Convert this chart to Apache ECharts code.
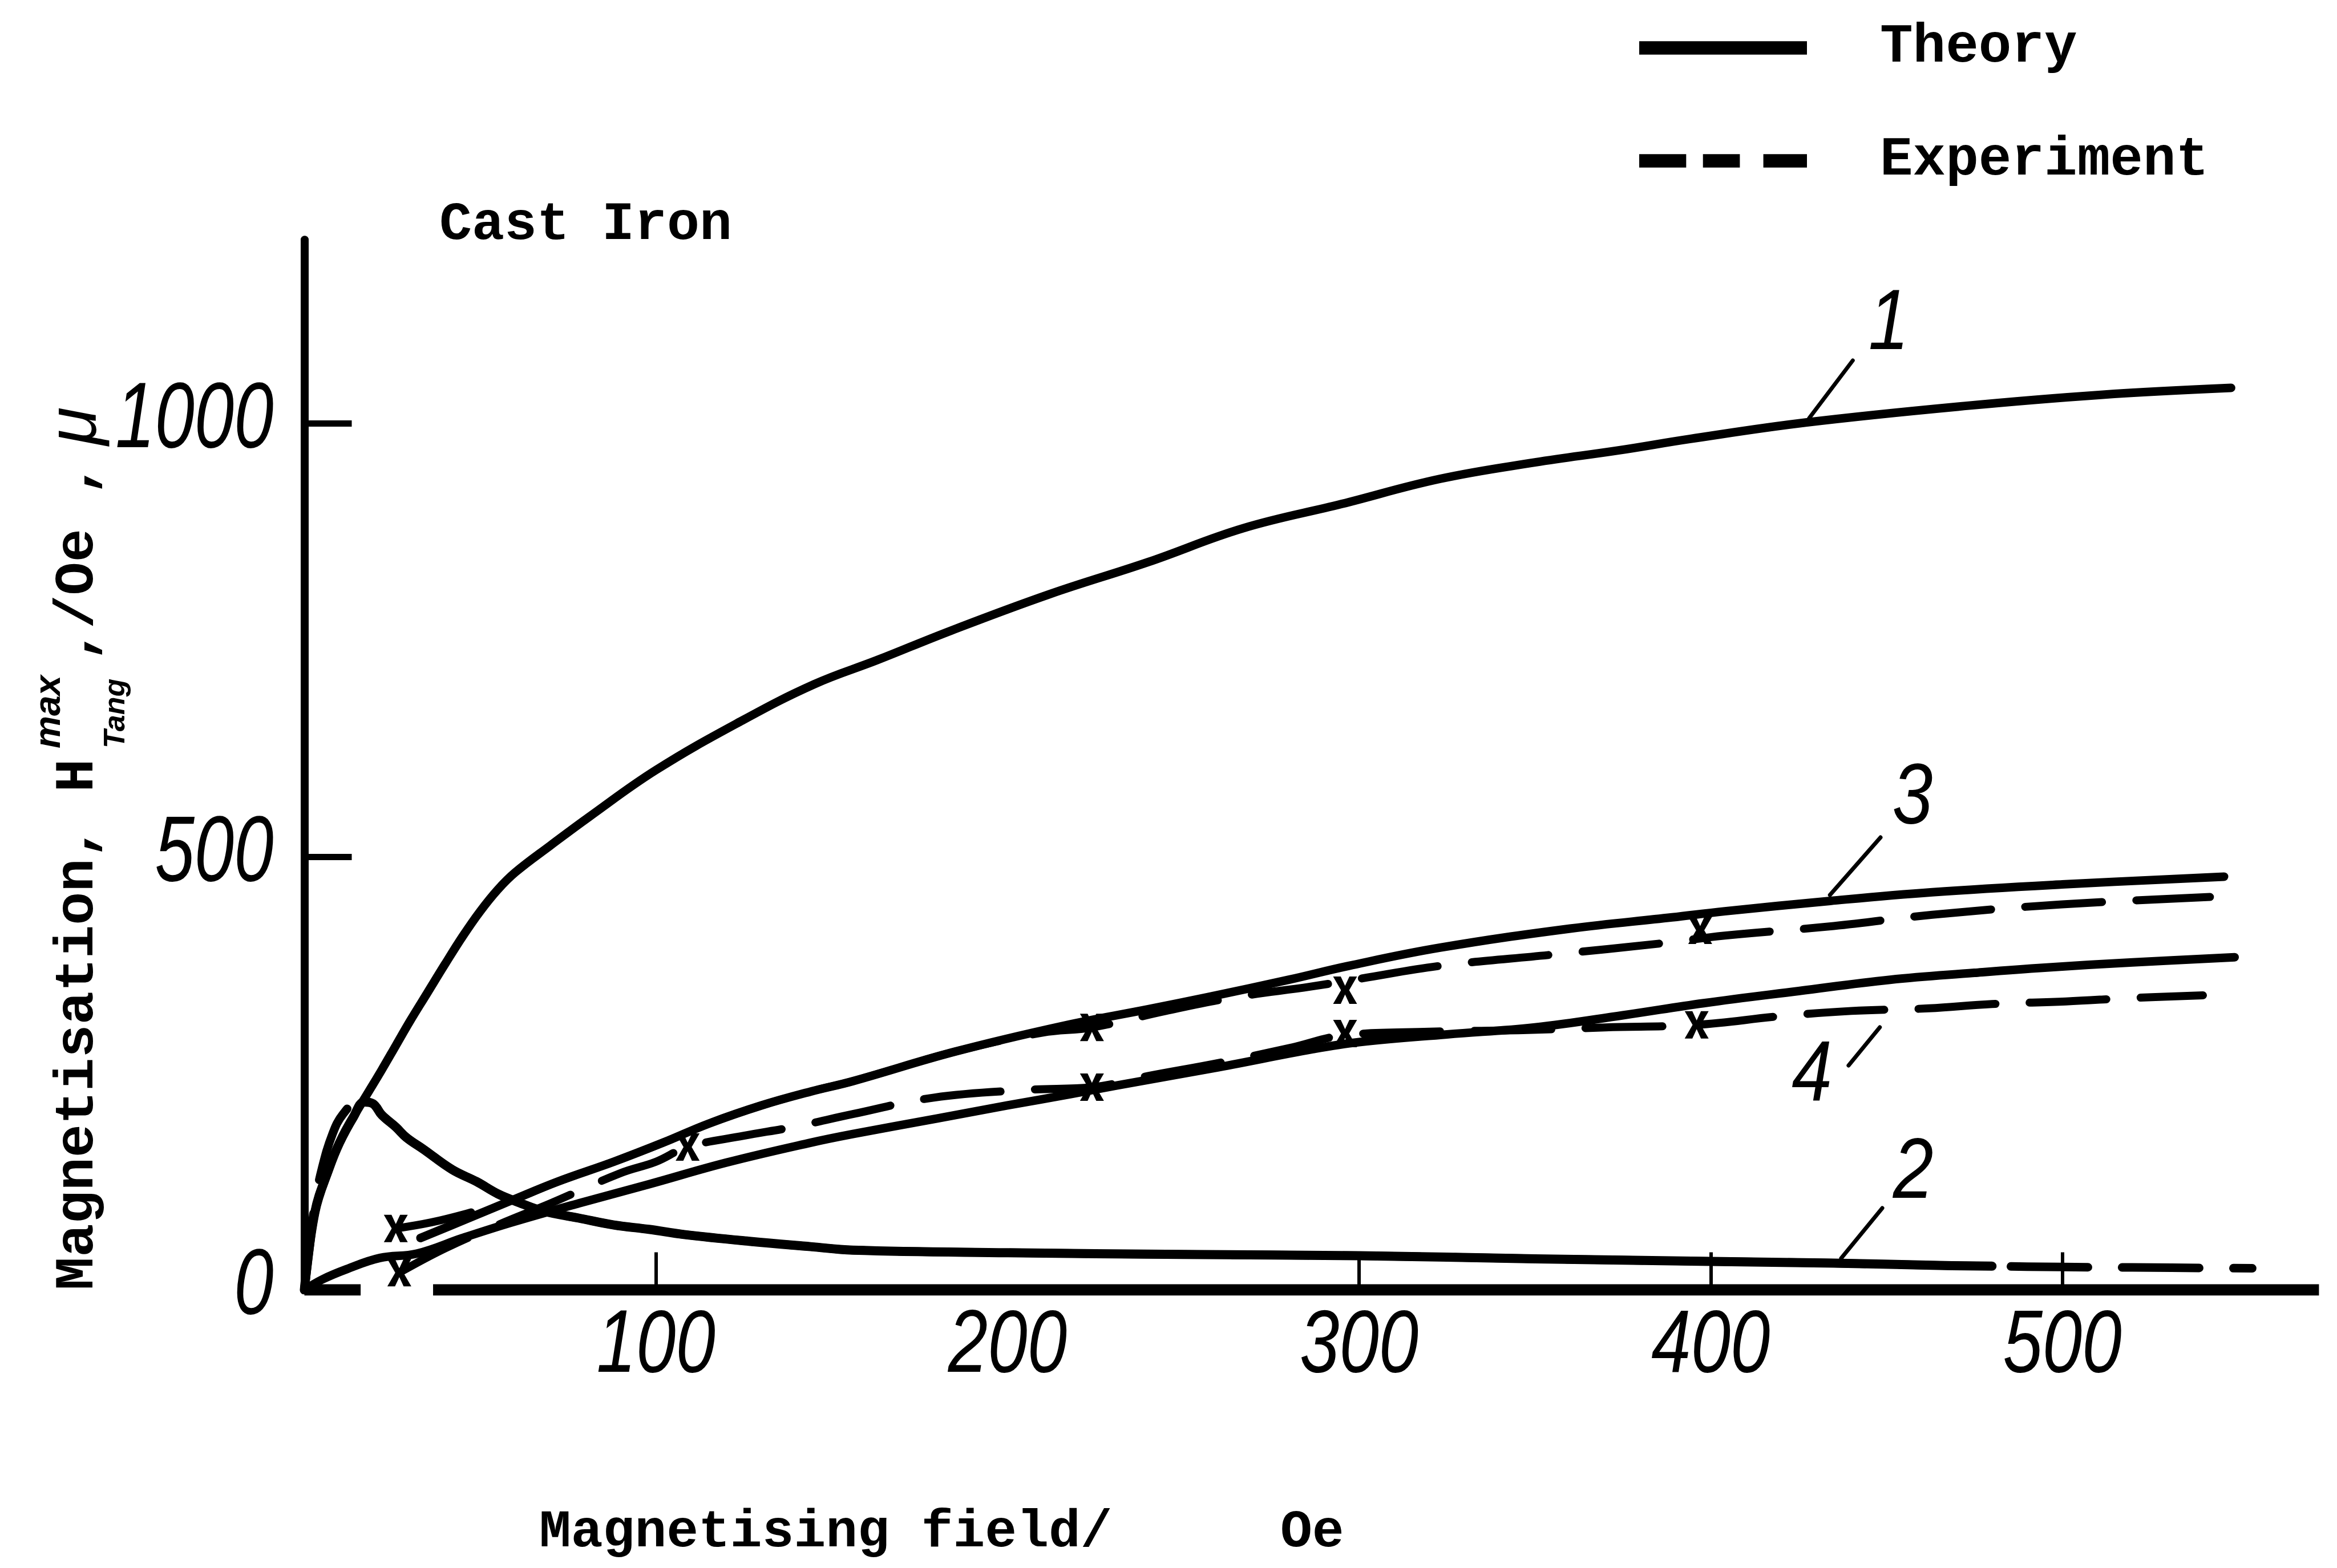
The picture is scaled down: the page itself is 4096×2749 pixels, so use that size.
<!DOCTYPE html>
<html>
<head>
<meta charset="utf-8">
<style>
html, body { margin: 0; padding: 0; background: #ffffff; }
#chart { width: 4096px; height: 2749px; }
</style>
<script src="https://cdn.jsdelivr.net/npm/echarts@6/dist/echarts.min.js"></script>
</head>
<body>
<div id="chart"></div>
<script>
// Magnetising field H (Oe) on x, magnetisation / permeability on y.
// Curve 1: permeability mu (theory)
const theory1X = [0, 3, 7, 10, 14, 18, 22, 26, 30, 35, 40, 45, 50, 55, 60, 70, 81, 100, 124, 145, 163, 184, 212, 240, 267, 295, 323, 350, 374, 394, 427, 472, 511, 548];
const theory1Y = [0, 90, 140, 170, 200, 227, 254, 282, 310, 343, 376, 408, 437, 462, 482, 513, 546, 600, 656, 699, 727, 761, 803, 840, 879, 907, 936, 955, 969, 982, 1001, 1020, 1033, 1041];

// Curve 2 (theory and experiment)
const theory2X = [0, 3, 7, 10, 14, 17, 19.5, 22, 26, 29, 34, 42, 49, 55, 61, 68, 78, 88, 98, 108, 127, 144, 156, 200, 250, 300, 350, 400, 435, 463, 480];
const theory2Y = [0, 90, 140, 170, 200, 217, 215, 202, 188, 176, 162, 139, 125, 111, 101, 91, 83, 75, 70, 64, 56, 50, 46, 43, 41, 39.5, 36, 33, 31, 28.5, 27.5];
const exp2X = [0, 1.5, 3, 5, 8, 11, 15, 19, 22, 26, 29, 34, 42, 49, 55, 61, 68, 78, 88, 98, 108, 127, 144, 156, 200, 250, 300, 350, 400, 435, 463, 480, 500, 520, 554];
const exp2Y = [0, 50, 100, 140, 180, 203, 216, 216, 202, 188, 176, 162, 139, 125, 111, 101, 91, 83, 75, 70, 64, 56, 50, 46, 43, 41, 39.5, 36, 33, 31, 28.5, 27.5, 26.5, 26, 25];

// Curve 3 (theory and experiment)
const theory3X = [33, 45, 58.7, 72, 88, 102, 115, 130, 144, 156, 185, 216, 240, 257, 280, 297, 323, 360, 389, 404, 434, 463, 500, 546];
const theory3Y = [60, 80, 103, 125, 148, 170, 192, 213, 229, 241, 275, 305, 324, 338, 358, 374, 395, 417, 430, 437, 449, 459, 468, 477];
const exp3X = [26, 36, 46, 58.7, 72, 88, 102, 115, 130, 144, 156, 185, 210, 224, 245, 265, 286, 300, 323, 355, 386, 404, 435, 463, 500, 542];
const exp3Y = [71, 78, 88, 103, 125, 148, 170, 192, 213, 229, 241, 275, 297, 303, 322, 338, 350, 359, 374, 387, 400, 409, 420, 433, 445, 453.5];
const exp3PointX = [26, 224, 296, 397];
const exp3PointY = [71, 303, 346, 415];

// Curve 4 (theory and experiment)
const theory4X = [0, 5, 12, 21.5, 32, 45, 59, 78, 98, 120, 144, 156, 180, 200, 218, 231, 260, 287, 300, 325, 350, 375, 398, 425, 451, 475, 495, 520, 549];
const theory4Y = [0, 12, 24, 37, 42, 60, 78, 100, 122, 147, 170, 180, 198, 213, 226, 236, 257, 278, 286, 295, 303, 317, 331, 345, 358, 366, 372, 378, 384];
const exp4X = [27, 40, 55, 70, 90, 100, 109, 125, 139, 156, 179, 206, 224, 240, 260, 280, 296, 320, 348, 370, 396, 420, 440, 462, 480, 501, 520, 540];
const exp4Y = [20, 48, 75, 100, 135, 148, 165, 178, 188, 203, 222, 231, 234, 247, 262, 279, 294, 298, 300, 303, 306, 316, 322, 325, 330, 333, 337, 340];
const exp4PointX = [27, 109, 224, 296, 396];
const exp4PointY = [20, 165, 234, 296, 306];

// Axis ticks and labels
const xLabelValues = [100, 200, 300, 400, 500];
const xTickValues = [100, 300, 400, 500];
const yLabelValues = [0, 500, 1000];
const yTickValues = [500, 1000];

// Baseline along H axis (two pieces, broken near the origin)
const baselineX = [0, 16, 20, 36.6, 573];
const baselineY = [0, 0, '-', 0, 0];

// Curve numbers and their leader strokes
const curveNumbers = ['1', '2', '3', '4'];
const curveNumberX = [450.6, 457.6, 457.4, 428.8];
const curveNumberY = [1113.4, 134.0, 565.8, 246.6];
const leaderX = [[428.0, 440.4], [437.1, 448.8], [433.9, 448.3], [439.2, 448.1]];
const leaderY = [[1006.1, 1072.6], [36.6, 94.5], [455.8, 522.3], [259.1, 303.2]];

const pts = (xs, ys) => xs.map((x, i) => [x, ys[i]]);

const INK = '#000000';
const MONO = "'Liberation Mono', 'DejaVu Sans Mono', monospace";
const HAND = "'Liberation Sans', 'DejaVu Sans', sans-serif";
const CROSS = 'path://M0,0 L3.2,0 L5,3.4 L6.8,0 L10,0 L6.7,5 L10,10 L6.8,10 L5,6.6 L3.2,10 L0,10 L3.3,5 Z';
const DASH = [135, 60];

function solid(data, width) {
  return {
    type: 'line', name: 'Theory', data: data, symbol: 'none', smooth: 0.4,
    lineStyle: { color: INK, width: width, cap: 'round', join: 'round' }, z: 3, silent: true
  };
}
function dashed(data, width) {
  return {
    type: 'line', name: 'Experiment', data: data, symbol: 'none', smooth: 0.4,
    lineStyle: { color: INK, width: width, type: DASH, cap: 'round', join: 'round' }, z: 3, silent: true
  };
}

const series = [
  solid(pts(theory1X, theory1Y), 15),
  solid(pts(theory2X, theory2Y), 16),
  solid(pts(theory3X, theory3Y), 15),
  solid(pts(theory4X, theory4Y), 15),
  dashed(pts(exp2X, exp2Y), 15),
  dashed(pts(exp3X, exp3Y), 14),
  dashed(pts(exp4X, exp4Y), 14),
  {
    type: 'scatter', name: 'Experimental points',
    data: pts(exp3PointX, exp3PointY).concat(pts(exp4PointX, exp4PointY)),
    symbol: CROSS, symbolSize: [42, 48], itemStyle: { color: INK, opacity: 1 }, z: 5, silent: true
  },
  {
    type: 'line', name: 'baseline', data: pts(baselineX, baselineY), symbol: 'none',
    lineStyle: { color: INK, width: 20, cap: 'butt' }, z: 4, silent: true
  }
];
leaderX.forEach((xs, i) => {
  series.push({
    type: 'line', name: 'leader ' + curveNumbers[i], data: pts(xs, leaderY[i]), symbol: 'none',
    lineStyle: { color: INK, width: 7, cap: 'round' }, z: 4, silent: true
  });
});

const chart = echarts.init(document.getElementById('chart'), null, { renderer: 'canvas' });
chart.setOption({
  animation: false,
  backgroundColor: '#ffffff',
  grid: { left: 533.5, right: 31.6, top: 420.2, bottom: 487.4, containLabel: false },
  xAxis: {
    type: 'value', min: 0, max: 573, interval: 100,
    axisLine: { show: false },
    splitLine: { show: false },
    axisTick: { show: true, inside: true, length: 66, customValues: xTickValues, lineStyle: { color: INK, width: 6 } },
    axisLabel: { show: false }
  },
  yAxis: {
    type: 'value', min: 0, max: 1212, interval: 500,
    axisLine: { show: true, lineStyle: { color: INK, width: 14 } },
    splitLine: { show: false },
    axisTick: { show: true, inside: true, length: 83, customValues: yTickValues, lineStyle: { color: INK, width: 11 } },
    axisLabel: { show: false }
  },
  legend: {
    left: 2868, top: 29, orient: 'vertical', itemWidth: 294, itemHeight: 24, itemGap: 98,
    selectedMode: false,
    data: [
      { name: 'Theory', icon: 'path://M0,0H100V8H0Z' },
      { name: 'Experiment', icon: 'path://M0,0H28V8H0Z M38,0H60V8H38Z M74,0H100V8H74Z' }
    ],
    itemStyle: { color: INK },
    textStyle: { color: INK, fontFamily: MONO, fontWeight: 'bold', fontSize: 96, lineHeight: 100, padding: [0, 0, 0, 123] }
  },
  series: series
});

// Handwritten-style numerals: tall, narrow italic digits placed through the axis scales
function numeral(text, x, y, size, align, sx) {
  return {
    type: 'text', x: x, y: y, scaleX: sx, z: 10,
    style: { text: text, fill: INK, fontFamily: HAND, fontStyle: 'italic', fontSize: size, align: align, verticalAlign: 'middle' }
  };
}
const graphics = [];
xLabelValues.forEach(v => {
  const p = chart.convertToPixel({ gridIndex: 0 }, [v, 0]);
  graphics.push(numeral(String(v), p[0], p[1] + 100, 156, 'center', 0.8));
});
yLabelValues.forEach(v => {
  const p = chart.convertToPixel({ gridIndex: 0 }, [0, v]);
  graphics.push(numeral(String(v), p[0] - 54, p[1] - 4, 164, 'right', 0.76));
});
curveNumbers.forEach((t, i) => {
  const p = chart.convertToPixel({ gridIndex: 0 }, [curveNumberX[i], curveNumberY[i]]);
  graphics.push(numeral(t, p[0], p[1], 150, 'center', 0.85));
});

graphics.push(
  {
    type: 'text', x: 770, y: 395,
    style: { text: 'Cast Iron', fill: INK, fontFamily: MONO, fontWeight: 'bold', fontSize: 95, align: 'left', verticalAlign: 'middle' }
  },
  {
    type: 'text', x: 945, y: 2688,
    style: { text: 'Magnetising field/', fill: INK, fontFamily: MONO, fontWeight: 'bold', fontSize: 93, align: 'left', verticalAlign: 'middle' }
  },
  {
    type: 'text', x: 2244, y: 2688,
    style: { text: 'Oe', fill: INK, fontFamily: MONO, fontWeight: 'bold', fontSize: 93, align: 'left', verticalAlign: 'middle' }
  },
  {
    type: 'group', x: 138, y: 2262, rotation: Math.PI / 2,
    children: [
      { type: 'text', x: 0, y: 0, style: { text: 'Magnetisation, H', fill: INK, fontFamily: MONO, fontWeight: 'bold', fontSize: 97, align: 'left', verticalAlign: 'middle' } },
      { type: 'text', x: 950, y: -51, style: { text: 'max', fill: INK, fontFamily: HAND, fontStyle: 'italic', fontWeight: 'bold', fontSize: 64, align: 'left', verticalAlign: 'middle' } },
      { type: 'text', x: 950, y: 66, style: { text: 'Tang', fill: INK, fontFamily: HAND, fontStyle: 'italic', fontWeight: 'bold', fontSize: 52, align: 'left', verticalAlign: 'middle' } },
      { type: 'text', x: 1102, y: 0, style: { text: ',/Oe ,', fill: INK, fontFamily: MONO, fontWeight: 'bold', fontSize: 97, align: 'left', verticalAlign: 'middle' } },
      { type: 'text', x: 1515, y: -4, style: { text: 'μ', fill: INK, fontFamily: HAND, fontStyle: 'italic', fontSize: 122, align: 'center', verticalAlign: 'middle' } }
    ]
  }
);
chart.setOption({ graphic: graphics });
</script>
</body>
</html>
